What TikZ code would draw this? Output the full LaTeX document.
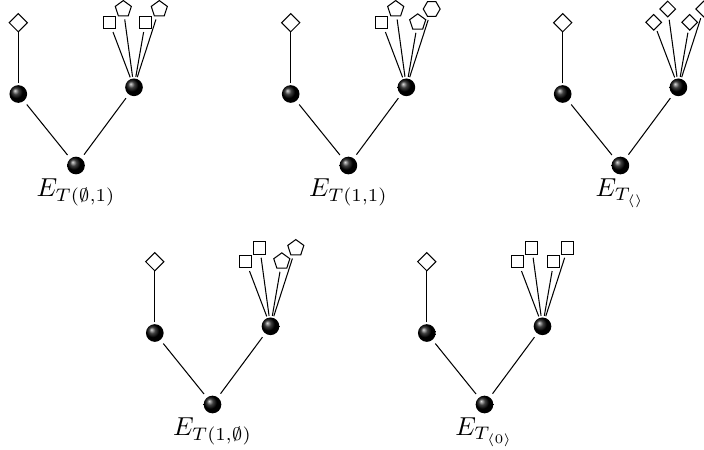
\documentclass[tikz,border=0pt]{standalone}
\usetikzlibrary{shapes.geometric}
\tikzset{
 ball/.style={circle, shading=ball, ball color=black, minimum size=6.8pt, inner sep=0pt, outer sep=0.7pt},
 leafd/.style={diamond, draw, aspect=1, minimum width=7pt, minimum height=7pt, inner sep=0pt, outer sep=0pt},
 leafdd/.style={leafd, outer sep=1.2pt},
 leafs/.style={rectangle, draw, minimum size=4.7pt, inner sep=0pt, outer sep=1.4pt},
 leafp/.style={regular polygon, regular polygon sides=5, draw, minimum size=6.5pt, inner sep=0pt, outer sep=1.4pt},
 leafh/.style={regular polygon, regular polygon sides=6, draw, minimum size=6.5pt, inner sep=0pt, outer sep=1.4pt},
 lbl/.style={anchor=north, inner sep=0.9pt},
 trunk/.style={shorten <=1.1pt, shorten >=1.1pt},
}
\newcommand{\drawtree}[7]{%
\begin{scope}[shift={#2}]
 \node[ball] (#1r) at (76,165.5) {};
 \node[ball] (#1l) at (18.3,94) {};
 \node[ball] (#1m) at (134,87.3) {};
 \node[leafd] (#1d) at (18.3,22.7) {};
 \node[#4] (#1a) at (109.3,22.3) {};
 \node[#5] (#1b) at (123.3,9) {};
 \node[#6] (#1c) at (145.3,22.3) {};
 \node[#7] (#1e) at (159.3,9) {};
 \node[lbl] (#1t) at (#1r.south) {$#3$};
 \draw[trunk] (#1r) -- (#1l);
 \draw[trunk] (#1r) -- (#1m);
 \draw (#1l) -- (#1d);
 \draw (#1m) -- (#1a);
 \draw (#1m) -- (#1b);
 \draw (#1m) -- (#1c);
 \draw (#1m) -- (#1e);
\end{scope}}
\begin{document}
\begin{tikzpicture}[x=0.385pt, y=-0.385pt]
\useasboundingbox (0,0) rectangle (704,449);
\drawtree{A}{(0,0)}{E_{T(\emptyset,1)}}{leafs}{leafp}{leafs}{leafp}
\drawtree{B}{(272.4,0)}{E_{T(1,1)}}{leafs}{leafp}{leafp}{leafh}
\drawtree{C}{(544.4,0)}{E_{T_{\langle\rangle}}}{leafdd}{leafdd}{leafdd}{leafdd}
\drawtree{D}{(136.5,239)}{E_{T(1,\emptyset)}}{leafs}{leafs}{leafp}{leafp}
\drawtree{F}{(408.5,239)}{E_{T_{\langle0\rangle}}}{leafs}{leafs}{leafs}{leafs}
\end{tikzpicture}
\end{document}
